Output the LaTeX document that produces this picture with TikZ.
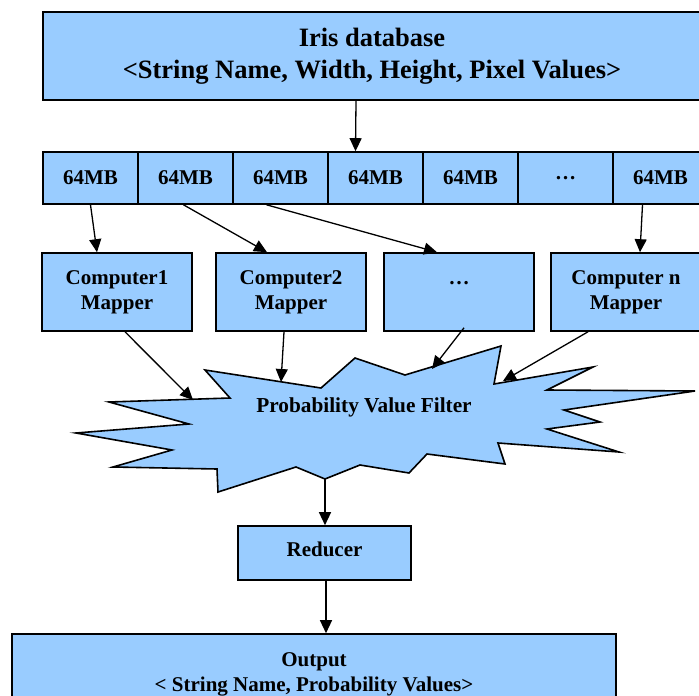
\documentclass[tikz,border=0pt]{standalone}
\usepackage{fontspec}
\setmainfont{Liberation Serif}
\usetikzlibrary{arrows.meta}
\definecolor{boxblue}{HTML}{99CCFF}
\begin{document}
\begin{tikzpicture}[x=1pt,y=-1pt,
  box/.style={draw=black,line width=1.6pt,fill=boxblue,inner sep=0pt,
    align=center,font=\fontsize{21}{24.5}\selectfont\bfseries},
  label21/.style={inner sep=0pt,align=center,font=\fontsize{21}{25}\selectfont\bfseries},
  cell/.style={box,minimum width=95pt,minimum height=52pt},
  mapper/.style={box,minimum width=150pt,minimum height=78pt},
  arr/.style={line width=1.3pt,-{Triangle[length=13pt,width=12pt]}},
]
\useasboundingbox (0,0) rectangle (699,696);
\clip (0,0) rectangle (699,696);

% input database
\node[box,minimum width=658pt,minimum height=88pt,
      font=\fontsize{26.5}{32}\selectfont\bfseries] (iris) at (372,56)
  {Iris database\\<String Name, Width, Height, Pixel Values>};

% 64MB splits
\foreach \i/\t in {1/64MB,2/64MB,3/64MB,4/64MB,5/64MB,6/…,7/64MB}
  \node[cell] (c\i) at ({43+95*(\i-1)+47.5},178) {\t};

% mappers
\node[mapper] (m1) at (117,292) {\strut Computer1\\\strut Mapper};
\node[mapper] (m2) at (291,292) {\strut Computer2\\\strut Mapper};
\node[mapper] (m3) at (459,292) {\strut …\\\strut};
\node[mapper] (m4) at (626,292) {\strut Computer n\\\strut Mapper};

% filter (star-shaped outline)
\filldraw[fill=boxblue,draw=black,line width=1.6pt,line join=miter]
  (205,370) -- (321,388) -- (355,358) -- (405,375) -- (501,346) -- (494,384)
  -- (593,367) -- (547,390) -- (695,391) -- (564,410) -- (600,422) -- (547,429)
  -- (619,452) -- (498,443) -- (505,464) -- (427,454) -- (409,473) -- (360,465)
  -- (325,479) -- (296,467) -- (218,492) -- (217,469) -- (113,467) -- (172,450)
  -- (76,433) -- (189,424) -- (109,402) -- (230,398) -- cycle;
\coordinate (s1) at (193,400);
\coordinate (s2) at (281,382);
\coordinate (s3) at (432,369);
\coordinate (s4) at (503,381);
\coordinate (sb) at (325,479);
\node[label21,font=\fontsize{21.3}{25}\selectfont\bfseries] (pvf) at (364,407) {Probability Value Filter};

% reducer and output
\node[box,minimum width=173pt,minimum height=54pt,text depth=6.6pt] (red) at (324.5,553) {Reducer};
\node[box,minimum width=604pt,minimum height=88pt] (out) at (314,678) {};
\node[label21] (outtxt) at (314,674) {Output\\< String Name, Probability Values>};

% connectors
\draw[arr] ([xshift=-16pt]iris.south) -- ([xshift=-20pt]c4.north);
\draw[arr] (c1.south) -- ([xshift=-20pt]m1.north);
\draw[arr] ([xshift=-2pt]c2.south) -- ([xshift=-24pt]m2.north);
\draw[arr] ([xshift=-14pt]c3.south) -- ([xshift=-22pt]m3.north);
\draw[arr] ([xshift=-18pt]c7.south) -- ([xshift=14pt]m4.north);

\draw[arr] ([xshift=8pt]m1.south) -- (s1);
\draw[arr] ([xshift=-7pt]m2.south) -- (s2);
\draw[arr] ([xshift=5pt,yshift=4pt]m3.south) -- (s3);
\draw[arr] ([xshift=-38pt]m4.south) -- (s4);

\draw[arr] (sb) -- ([xshift=0.5pt]red.north);
\draw[arr] ([xshift=1.5pt]red.south) -- ([xshift=12pt]out.north);
\end{tikzpicture}
\end{document}
